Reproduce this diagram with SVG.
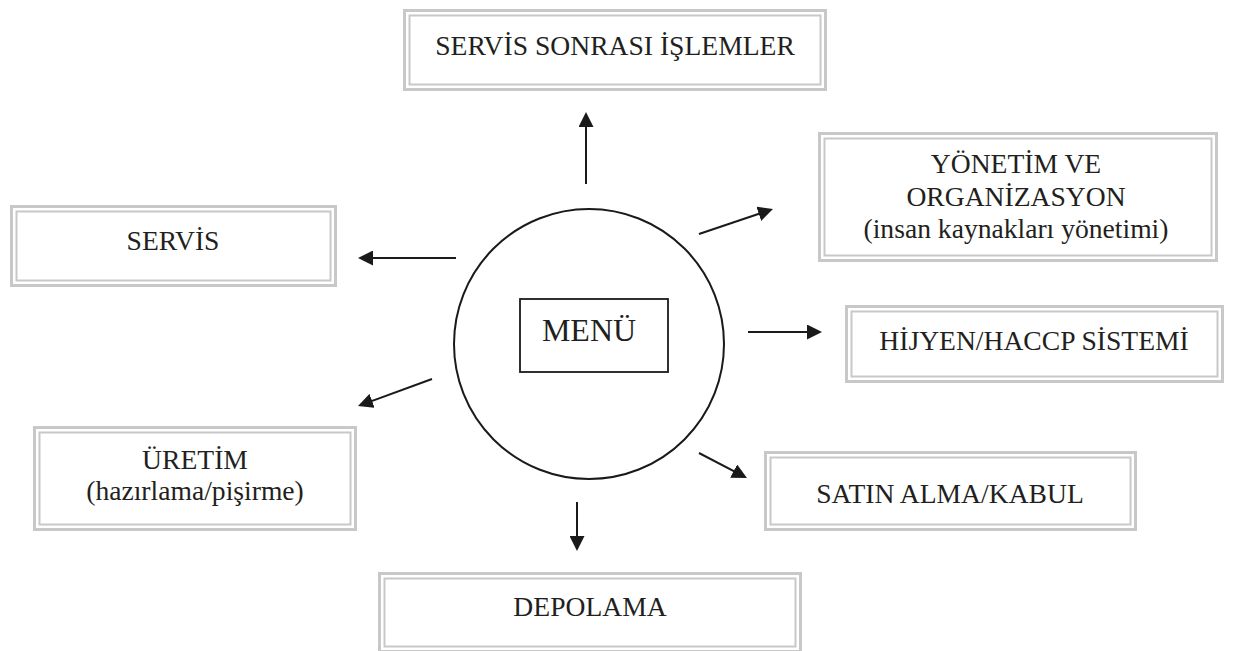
<svg xmlns="http://www.w3.org/2000/svg" width="1245" height="651" viewBox="0 0 1245 651">
<style>
.o{fill:none;stroke:#c8c8c8;stroke-width:3}
.i{fill:none;stroke:#c8c8c8;stroke-width:2}
.t{font-family:"Liberation Serif","Times New Roman",serif;font-size:27.6px;fill:#231f20;text-anchor:middle}
.c{fill:none;stroke:#1a1a1a;stroke-width:2}
.a{fill:none;stroke:#1a1a1a;stroke-width:2;marker-end:url(#ah)}
</style>
<defs>
<marker id="ah" viewBox="0 0 15 15" refX="5" refY="7.5" markerWidth="15" markerHeight="15" markerUnits="userSpaceOnUse" orient="auto">
<path d="M0,0 L15,7.5 L0,15 z" fill="#1a1a1a"/>
</marker>
</defs>
<rect width="1245" height="651" fill="#ffffff"/>
<g id="servis-sonrasi">
<rect class="o" x="404.5" y="10.5" width="421" height="79"/>
<rect class="i" x="409.5" y="15.5" width="411" height="69"/>
<text class="t" x="615" y="55">SERVİS SONRASI İŞLEMLER</text>
</g>
<g id="yonetim">
<rect class="o" x="819.5" y="133.5" width="397" height="127"/>
<rect class="i" x="824.5" y="138.5" width="387" height="117"/>
<text class="t" x="1016" y="173">YÖNETİM VE</text>
<text class="t" x="1016" y="206">ORGANİZASYON</text>
<text class="t" x="1016" y="238">(insan kaynakları yönetimi)</text>
</g>
<g id="servis">
<rect class="o" x="11.5" y="206.5" width="324" height="79"/>
<rect class="i" x="16.5" y="211.5" width="314" height="69"/>
<text class="t" x="173" y="250">SERVİS</text>
</g>
<g id="hijyen">
<rect class="o" x="846.5" y="306.5" width="376" height="75"/>
<rect class="i" x="851.5" y="311.5" width="366" height="65"/>
<text class="t" x="1034" y="350">HİJYEN/HACCP SİSTEMİ</text>
</g>
<g id="satin-alma">
<rect class="o" x="765.5" y="452.5" width="370" height="77"/>
<rect class="i" x="770.5" y="457.5" width="360" height="67"/>
<text class="t" x="950" y="503">SATIN ALMA/KABUL</text>
</g>
<g id="uretim">
<rect class="o" x="34.5" y="427.5" width="321" height="102"/>
<rect class="i" x="39.5" y="432.5" width="311" height="92"/>
<text class="t" x="195" y="469">ÜRETİM</text>
<text class="t" x="195" y="500">(hazırlama/pişirme)</text>
</g>
<g id="depolama">
<rect class="o" x="379.5" y="573.5" width="421" height="78"/>
<rect class="i" x="384.5" y="578.5" width="411" height="68"/>
<text class="t" x="590" y="616">DEPOLAMA</text>
</g>
<g id="menu">
<circle class="c" cx="589" cy="344" r="135"/>
<rect x="520" y="299" width="148" height="73" fill="none" stroke="#1a1a1a" stroke-width="1.8"/>
<text x="589" y="341" font-family="'Liberation Serif','Times New Roman',serif" font-size="32" fill="#231f20" text-anchor="middle">MENÜ</text>
</g>
<g id="connectors">
<line class="a" x1="586" y1="184" x2="586" y2="122"/>
<line class="a" x1="699" y1="234" x2="763.5" y2="212.2"/>
<line class="a" x1="748" y1="332" x2="812" y2="332"/>
<line class="a" x1="699" y1="453" x2="738.1" y2="473.4"/>
<line class="a" x1="577" y1="502" x2="577" y2="541"/>
<line class="a" x1="432" y1="379" x2="367.4" y2="402.6"/>
<line class="a" x1="456" y1="258" x2="368" y2="258"/>
</g>
</svg>
